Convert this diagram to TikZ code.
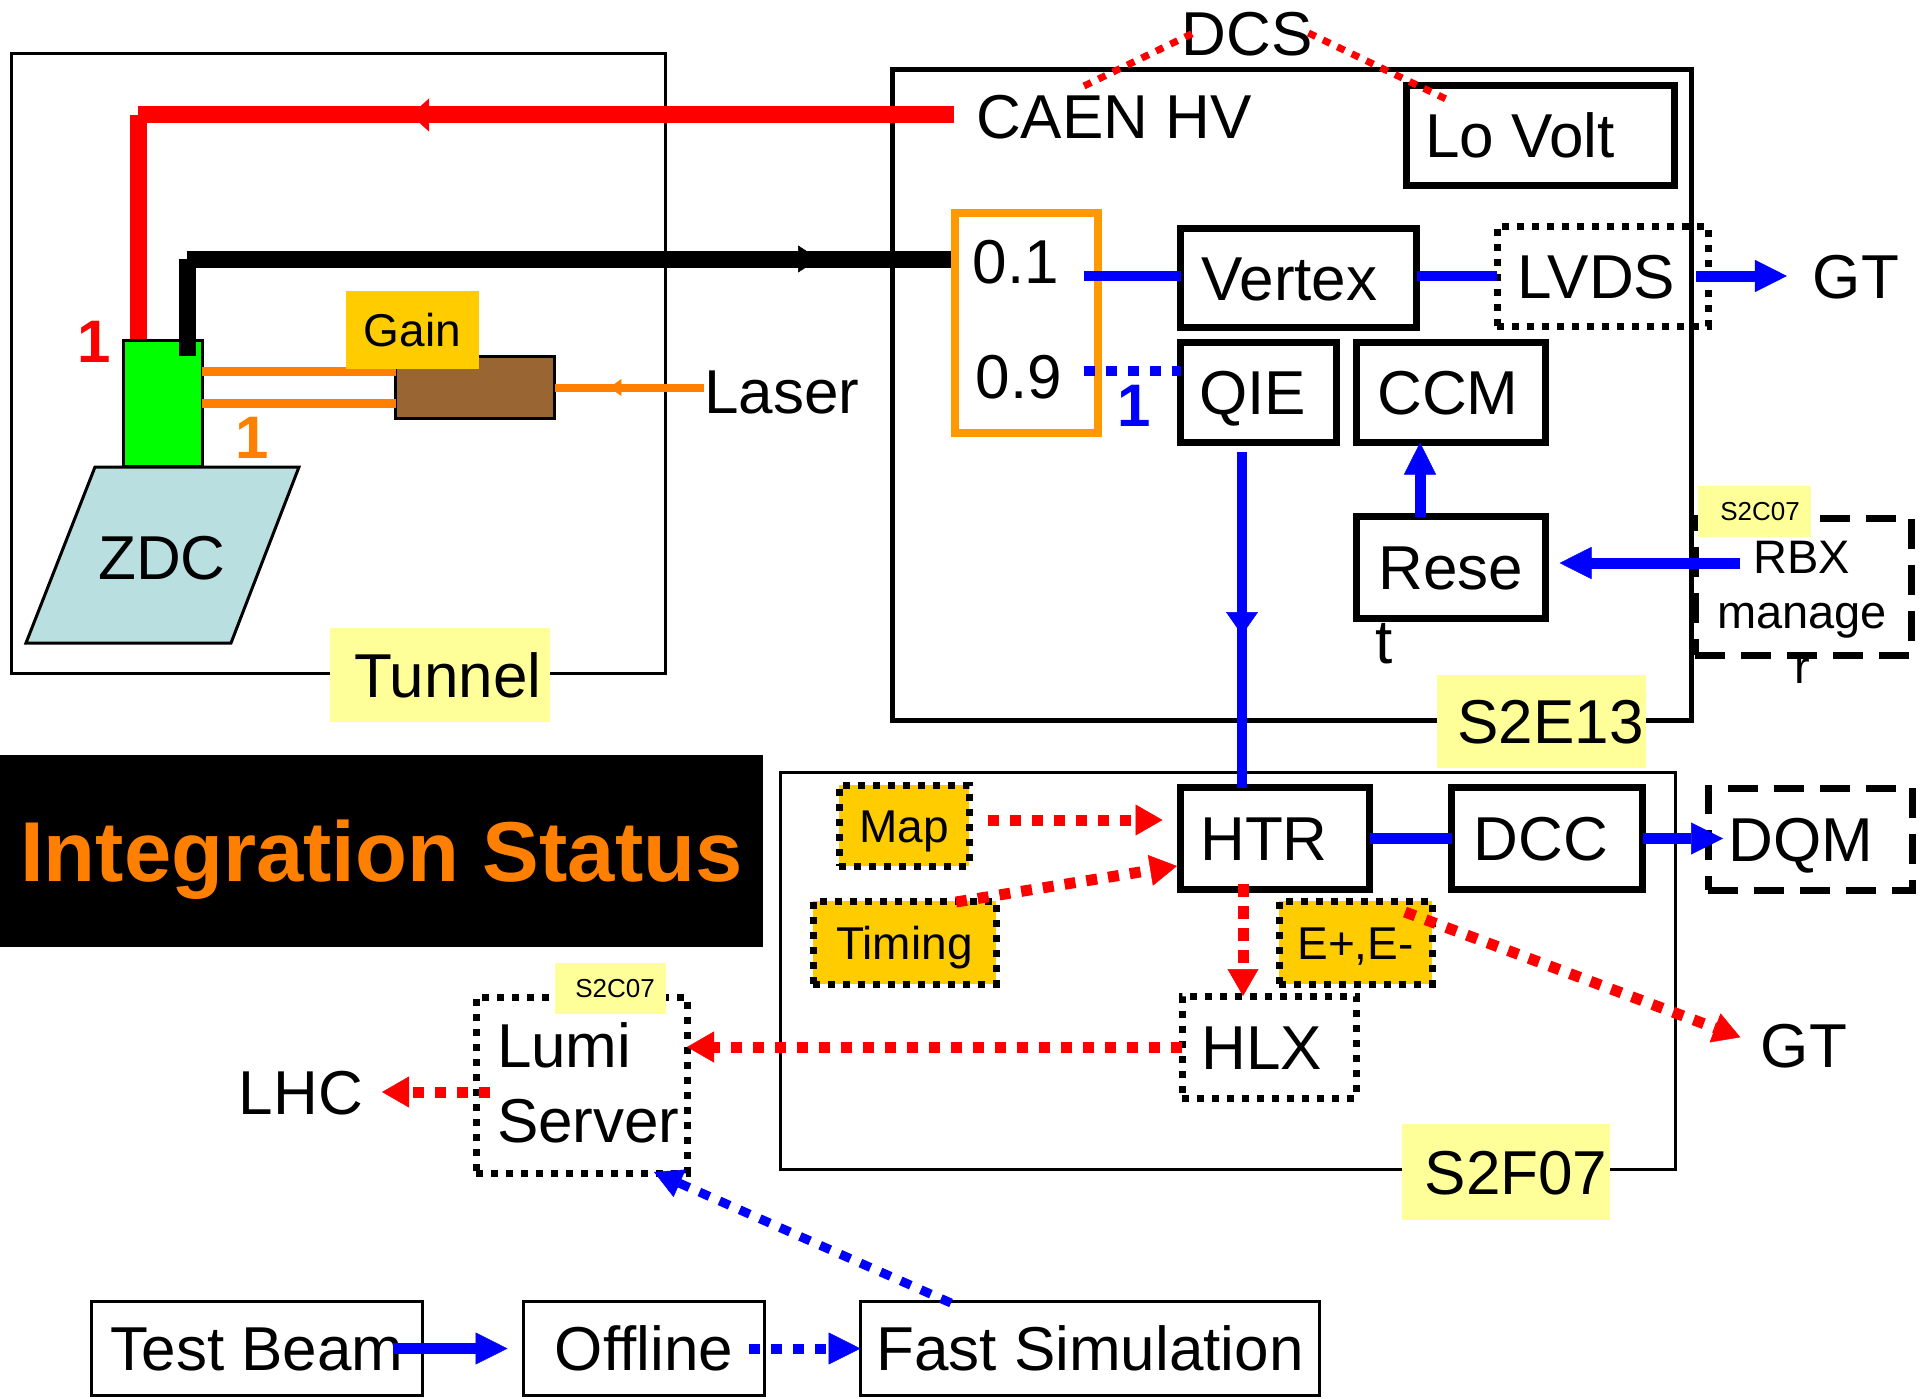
\documentclass[tikz,border=0pt]{standalone}
\usepackage{fontspec}
\setmainfont{Liberation Sans}
\usetikzlibrary{arrows.meta,decorations.markings}
\definecolor{myred}{HTML}{FF0000}
\definecolor{myblue}{HTML}{0000FF}
\definecolor{orline}{HTML}{FF8000}
\definecolor{orbox}{HTML}{FF9900}
\definecolor{gainfill}{HTML}{FFCC00}
\definecolor{tagyellow}{HTML}{FFFF99}
\definecolor{zdcgreen}{HTML}{00FF00}
\definecolor{brownbox}{HTML}{996633}
\definecolor{zdcfill}{HTML}{B9DFE1}
\definecolor{titleorange}{HTML}{FF8000}
\tikzset{
  bx/.style={inner sep=0pt, outer sep=0pt},
  bigtext/.style={bx, font=\fontsize{62}{70}\selectfont, text height=44.4pt, text depth=0pt},
  midtext/.style={bx, font=\fontsize{46}{52}\selectfont, text height=33pt, text depth=0pt},
  smalltext/.style={bx, font=\fontsize{26}{30}\selectfont, text height=18.6pt, text depth=0pt},
  digit/.style={bx, font=\fontsize{60}{66}\selectfont\bfseries, text height=43pt, text depth=0pt},
  heavybox/.style={bx, draw, line width=7pt},
  dotbox/.style={bx, draw, line width=7pt, dash pattern=on 7pt off 8pt},
  dashbox/.style={bx, draw, line width=7pt, dash pattern=on 30pt off 16pt},
  thinbox/.style={bx, draw, line width=3pt},
  tagbox/.style={bx, fill=tagyellow},
  bigtip/.style={-{Triangle[length=32pt,width=32pt,line width=0.5pt]}},
  redtip/.style={-{Triangle[length=27pt,width=31pt,line width=0.5pt]}},
  blueline/.style={draw=myblue, line width=11pt},
  reddot/.style={draw=myred, line width=11pt, dash pattern=on 11pt off 11pt},
  bluedot/.style={draw=myblue, line width=10pt, dash pattern=on 11pt off 11pt},
  midtip/.style 2 args={postaction={decorate}, decoration={markings, mark=at position #1 with {\arrow{#2}}}},
}
\begin{document}
\begin{tikzpicture}[x=1pt,y=-1pt]
\useasboundingbox (0,0) rectangle (1932,1399);

% ---------- containers ----------
\node[thinbox, minimum width=654pt, minimum height=620pt] (tunnel) at (338.5,363.5) {};
\node[bx, draw, line width=5pt, minimum width=799pt, minimum height=651pt] (s2e13) at (1292,395) {};
\node[thinbox, minimum width=895pt, minimum height=397pt] (s2f07) at (1228,971) {};

% ---------- tunnel ----------
\draw[fill=zdcfill, line width=3pt] (95,467) -- (299,467) -- (231,643) -- (26,643) -- cycle;
\node[bigtext] (zdc) at (162,557) {ZDC};
\node[bx, draw, line width=3pt, fill=zdcgreen, minimum width=79pt, minimum height=126pt] (green) at (162.5,403) {};
\node[bx, draw, line width=3pt, fill=brownbox, minimum width=159pt, minimum height=62pt] (brown) at (475,387.5) {};
\node[bigtext] (laser) at (782,391) {Laser};
\node[digit, text=myred] (one1) at (94,341) {1};
\node[digit, text=orline] (one2) at (252,437) {1};

\draw[draw=orline, line width=9pt] ([yshift=32pt]green.east) coordinate (ou) -- (ou -| brown.west);
\draw[draw=orline, line width=9pt] (green.east) -- (green.east -| brown.west);
\draw[draw=orline, line width=8pt, midtip={95pt}{Triangle[length=12pt,width=17pt,line width=0.5pt]}] (laser.west |- brown.east) -- (brown.east);
\node[bx, fill=gainfill, font=\fontsize{46}{52}\selectfont, text height=33pt, text depth=0pt, minimum width=133pt, minimum height=78pt] (gain) at (412.5,330) {Gain};

% ---------- S2E13 ----------
\node[bigtext, anchor=west] (caen) at (976,116) {CAEN HV};
\node[bigtext] (dcs) at (1247,33) {DCS};
\node[heavybox, bigtext, minimum width=268pt, minimum height=100pt] (lovolt) at (1540.5,135.5) {Lo Volt\hspace*{41pt}};
\node[bx, draw=orbox, line width=8pt, minimum width=143pt, minimum height=220pt] (orbox) at (1026.5,323) {};
\node[bigtext] (p1) at (1016,261) {0.1};
\node[bigtext] (p9) at (1019,376) {0.9};
\node[heavybox, bigtext, minimum width=236pt, minimum height=99pt] (vertex) at (1298.5,278) {Vertex\hspace*{18pt}};
\node[dotbox, bigtext, minimum width=211pt, minimum height=100pt] (lvds) at (1602.5,276) {LVDS\hspace*{12pt}};
\node[bigtext] (gt) at (1856,276) {GT};
\node[heavybox, bigtext, minimum width=156pt, minimum height=100pt] (qie) at (1258.5,392.5) {QIE\hspace*{12pt}};
\node[heavybox, bigtext, minimum width=189pt, minimum height=100pt] (ccm) at (1451,392.5) {CCM\hspace*{6pt}};
\node[heavybox, bigtext, minimum width=189pt, minimum height=102pt] (reset) at (1451,567.5) {Rese};
\node[bigtext, anchor=base] (resett) at (1384,663) {t};
\node[dashbox, minimum width=216pt, minimum height=137pt] (rbx) at (1803,586.5) {};
\node[bx, font=\fontsize{47}{55}\selectfont, align=center] (rbxtext) at (1802,612) {RBX\\manage\\r};
\node[tagbox, smalltext, minimum width=113pt, minimum height=51pt] (tag1) at (1754.5,511.5) {\hspace*{11pt}S2C07};
\node[digit, text=myblue] (one3) at (1134,405) {1};

% ---------- S2F07 ----------
\node[heavybox, bigtext, minimum width=189pt, minimum height=102pt] (htr) at (1275,838.5) {HTR\hspace*{22pt}};
\node[heavybox, bigtext, minimum width=191pt, minimum height=102pt] (dcc) at (1547,838.5) {DCC\hspace*{12pt}};
\node[dashbox, bigtext, minimum width=204pt, minimum height=102pt] (dqm) at (1810,839) {DQM\hspace*{18pt}};
\node[dotbox, fill=gainfill, midtext, minimum width=130pt, minimum height=81pt] (map) at (904,825.5) {Map};
\node[dotbox, fill=gainfill, midtext, minimum width=183pt, minimum height=83pt] (timing) at (904.5,942.5) {Timing};
\node[dotbox, fill=gainfill, midtext, minimum width=153pt, minimum height=83pt] (epm) at (1355.5,942.5) {E+,E-};
\node[dotbox, bigtext, minimum width=174pt, minimum height=102pt] (hlx) at (1269,1047) {HLX\hspace*{14pt}};
\node[bigtext] (gt2) at (1804,1045) {GT};

% ---------- left / bottom ----------
\node[bx, fill=black, minimum width=763pt, minimum height=192pt, text=titleorange, font=\fontsize{85}{95}\selectfont\bfseries, text height=61pt, text depth=0pt] (title) at (381.5,851) {Integration Status};
\node[dotbox, minimum width=211pt, minimum height=176pt] (lumi) at (581.5,1085) {};
\node[bx, font=\fontsize{62}{75}\selectfont, align=left, anchor=west] (lumitext) at (497,1083) {Lumi\\Server};
\node[bigtext] (lhc) at (301,1092) {LHC};
\node[thinbox, bigtext, minimum width=331pt, minimum height=94pt] (testbeam) at (257,1348.5) {Test Beam};
\node[thinbox, bigtext, minimum width=241pt, minimum height=94pt] (offline) at (644,1348.5) {Offline};
\node[thinbox, bigtext, minimum width=459pt, minimum height=94pt] (fastsim) at (1090,1348.5) {Fast Simulation};

% ---------- connectors ----------
\coordinate (hvsrc) at (954,115);
\coordinate (hvcorner) at (138,115);
\coordinate (hvdrop) at (138,339);
\draw[draw=myred, line width=17pt, midtip={543pt}{Triangle[length=18pt,width=33pt,line width=0.5pt]}] (hvsrc) -- (hvcorner) (hvcorner) -- (hvdrop);
\coordinate (sigsrc) at (187,356);
\coordinate (sigcorner) at (187,259);
\coordinate (sigdst) at (951,259);
\draw[draw=black, line width=17pt, midtip={729pt}{Triangle[length=21pt,width=27pt,line width=0.5pt]}] (sigsrc) -- (sigcorner) (sigcorner) -- (sigdst);

\coordinate (dcsA) at (1084,86);
\coordinate (dcsB) at (1446,99);
\draw[draw=myred, line width=7pt, dash pattern=on 8pt off 8pt] (dcsA) -- ([xshift=12pt]dcs.west);
\draw[draw=myred, line width=7pt, dash pattern=on 8pt off 8pt] ([xshift=-4pt]dcs.east) -- (dcsB);

\coordinate (p01) at (1084,276);
\draw[blueline, line width=10pt] (p01) -- (p01 -| vertex.west);
\draw[blueline, line width=10pt] (vertex.east |- p01) -- (p01 -| lvds.west);
\draw[blueline, bigtip, shorten >=26pt] ([xshift=-12pt]lvds.east) -- (gt.west);
\coordinate (p09) at (1084,371);
\draw[bluedot] (p09) -- (p09 -| qie.west);
\coordinate (qh) at (1242,452);
\draw[draw=myblue, line width=10pt, midtip={183pt}{Triangle[length=23pt,width=32pt,line width=0.5pt]}] (qh) -- (qh |- htr.north);
\draw[blueline, bigtip] ([xshift=-31pt]reset.north) -- ([xshift=-31pt]ccm.south);
\coordinate (rbxsrc) at (1740,563);
\draw[blueline, bigtip, shorten >=14pt] (rbxsrc) -- (rbxsrc -| reset.east);

\coordinate (mapsrc) at (988,820);
\draw[reddot, redtip, shorten >=18pt] (mapsrc) -- (mapsrc -| htr.west);
\coordinate (tmsrc) at (956,902);
\coordinate (tmdst) at (1177,866);
\draw[reddot, redtip] (tmsrc) -- (tmdst);
\coordinate (hh) at (1243,884);
\draw[draw=myred, line width=11pt, dash pattern=on 13pt off 9pt, redtip] (hh) -- (hh |- hlx.north);
\draw[blueline] (htr.east) -- (dcc.west);
\coordinate (dqmtip) at (1723,838.5);
\draw[blueline, bigtip] (dcc.east) -- (dqmtip);
\coordinate (esrc) at (1405,912);
\draw[reddot, redtip, shorten >=22pt] (esrc) -- (gt2.west);
\draw[reddot, redtip] (hlx.west) -- (hlx.west -| lumi.east);
\coordinate (lumsrc) at (490,1092);
\draw[reddot, redtip, shorten >=19pt] (lumsrc) -- (lhc.east);
\coordinate (fssrc) at (951,1303);
\coordinate (lumtip) at (654,1172);
\draw[bluedot, line width=9pt, -{Triangle[length=28pt,width=30pt,line width=0.5pt]}] (fssrc) -- (lumtip);
\draw[blueline, bigtip, shorten >=16pt] ([xshift=-30pt]testbeam.east) -- (offline.west);
\draw[bluedot, bigtip] ([xshift=-16pt]offline.east) -- (fastsim.west);

% ---------- tags on top ----------
\node[tagbox, bigtext, minimum width=220pt, minimum height=94pt] (tunneltag) at (440,675) {\hspace*{16pt}Tunnel};
\node[tagbox, bigtext, minimum width=209pt, minimum height=93pt] (s2e13tag) at (1541.5,721.5) {\hspace*{18pt}S2E13};
\node[tagbox, bigtext, minimum width=208pt, minimum height=96pt] (s2f07tag) at (1506,1172) {\hspace*{20pt}S2F07};
\node[tagbox, smalltext, minimum width=111pt, minimum height=51pt] (tag2) at (610.5,988.5) {\hspace*{9pt}S2C07};
\end{tikzpicture}
\end{document}
